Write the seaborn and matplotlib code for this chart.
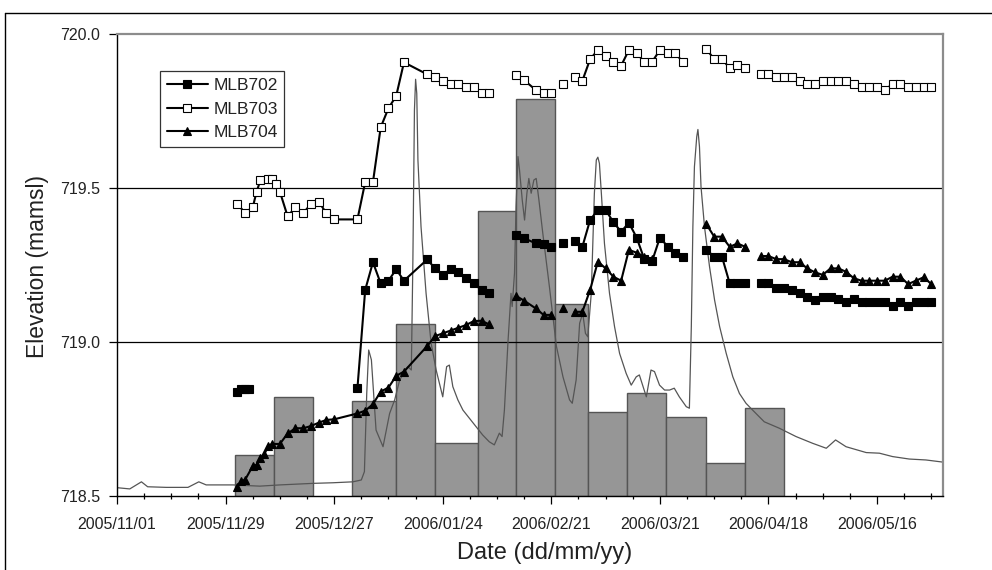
import numpy as np
import pandas as pd
import matplotlib
matplotlib.use("Agg")
import matplotlib.pyplot as plt
import matplotlib.dates as mdates
from matplotlib.lines import Line2D
from matplotlib.ticker import FixedLocator, FormatStrFormatter
import seaborn as sns

ORIGIN = pd.Timestamp("2005-11-01")
AXIS_DAYS = 213

# Piezometer levels (m amsl); day = days since 2005-11-01, None breaks the line
mlb702_day = [31, 32, 33, 34, 50,
              62, 64, 66, 68, 70, 72, 74, 80, 82, 84, 86, 88, 90, 92, 94, 96, 99,
              103, 105, 108, 110, 112, 113, 115, 116,
              118, 120, 122, 124, 126, 128, 130, 132, 134, 136, 138, 140, 142, 144, 146, 149,
              152, 154, 156, 158, 160, 162, 164,
              166, 168, 170, 172, 174, 176, 178, 180, 182, 184, 186, 188, 190, 192, 194,
              196, 198, 200, 202, 204, 206, 208, 210]
mlb702_elev = [718.839, 718.847, 718.847, 718.847, None,
               718.850, 719.169, 719.259, 719.190, 719.199, 719.236, 719.199, 719.268, 719.239,
               719.218, 719.236, 719.228, 719.207, 719.190, 719.169, 719.158, None,
               719.347, 719.337, 719.320, 719.318, 719.307, None, 719.320, None,
               719.328, 719.309, 719.396, 719.429, 719.429, 719.389, 719.358, 719.387, 719.339,
               719.268, 719.263, 719.339, 719.310, 719.290, 719.277, None,
               719.299, 719.277, 719.277, 719.190, 719.190, 719.190, None,
               719.190, 719.190, 719.176, 719.176, 719.169, 719.158, 719.147, 719.136, 719.147,
               719.147, 719.139, 719.129, 719.139, 719.129, 719.129,
               719.129, 719.129, 719.118, 719.129, 719.118, 719.129, 719.129, 719.129]

mlb703_day = [31, 33, 35, 36, 37, 39, 40, 41, 42, 44, 46, 48, 50, 52, 54, 56,
              62, 64, 66, 68, 70, 72, 74, 80, 82, 84, 86, 88, 90, 92, 94, 96, 99,
              103, 105, 108, 110, 112, 113, 115, 116,
              118, 120, 122, 124, 126, 128, 130, 132, 134, 136, 138, 140, 142, 144, 146, 149,
              152, 154, 156, 158, 160, 162, 164,
              166, 168, 170, 172, 174, 176, 178, 180, 182, 184, 186, 188, 190, 192, 194,
              196, 198, 200, 202, 204, 206, 208, 210]
mlb703_elev = [719.448, 719.420, 719.437, 719.488, 719.526, 719.528, 719.528, 719.512, 719.488,
               719.408, 719.437, 719.418, 719.448, 719.456, 719.418, 719.398,
               719.398, 719.519, 719.519, 719.697, 719.759, 719.799, 719.908, 719.869, 719.859,
               719.848, 719.838, 719.838, 719.829, 719.829, 719.809, 719.809, None,
               719.867, 719.850, 719.818, 719.807, 719.807, None, 719.838, None,
               719.859, 719.848, 719.918, 719.948, 719.929, 719.910, 719.897, 719.948, 719.937,
               719.910, 719.910, 719.948, 719.937, 719.937, 719.908, None,
               719.950, 719.919, 719.919, 719.889, 719.899, 719.889, None,
               719.869, 719.869, 719.859, 719.859, 719.859, 719.848, 719.838, 719.838, 719.848,
               719.848, 719.848, 719.848, 719.838, 719.829, 719.829,
               719.829, 719.818, 719.838, 719.838, 719.829, 719.829, 719.829, 719.829]

mlb704_day = [31, 32, 33, 35, 36, 37, 38, 39, 40, 42, 44, 46, 48, 50, 52, 54, 56,
              62, 64, 66, 68, 70, 72, 74, 80, 82, 84, 86, 88, 90, 92, 94, 96, 99,
              103, 105, 108, 110, 112, 113, 115, 116,
              118, 120, 122, 124, 126, 128, 130, 132, 134, 136, 138, 149,
              152, 154, 156, 158, 160, 162, 164,
              166, 168, 170, 172, 174, 176, 178, 180, 182, 184, 186, 188, 190, 192, 194,
              196, 198, 200, 202, 204, 206, 208, 210]
mlb704_elev = [718.530, 718.549, 718.552, 718.597, 718.601, 718.622, 718.636, 718.662, 718.669,
               718.669, 718.703, 718.720, 718.720, 718.727, 718.738, 718.747, 718.749,
               718.768, 718.777, 718.798, 718.839, 718.852, 718.890, 718.904, 718.987, 719.019,
               719.028, 719.037, 719.046, 719.055, 719.068, 719.069, 719.057, None,
               719.149, 719.134, 719.109, 719.088, 719.088, None, 719.109, None,
               719.098, 719.098, 719.169, 719.261, 719.239, 719.212, 719.199, 719.299, 719.290,
               719.277, 719.270, None,
               719.382, 719.342, 719.342, 719.309, 719.320, 719.309, None,
               719.279, 719.279, 719.269, 719.269, 719.259, 719.259, 719.239, 719.226, 719.218,
               719.239, 719.239, 719.228, 719.207, 719.199, 719.199,
               719.199, 719.199, 719.212, 719.212, 719.188, 719.199, 719.210, 719.188]

# Ten-day totals drawn as stepped blocks (edges in days, top level on the elevation scale)
block_edge = [30.5, 40.5, 50.5, 60.5, 72, 82, 93, 103, 113, 121.5, 131.5, 141.5, 152, 162, 172]
block_top = [718.633, 718.821, None, 718.808, 719.058, 718.673, 719.425, 719.789,
             719.123, 718.773, 718.834, 718.757, 718.607, 718.786]

# Continuous stage record
stage_day = [0, 3.3, 6.3, 7.9, 12.7, 18.3, 21.1, 23, 29.9, 36.8, 42, 47, 50.5, 55.7, 60.8,
             63, 63.8, 64.4, 64.9, 65.6, 66.8, 68.6, 70.3, 71.6, 72.9, 75, 75.9, 76.3, 76.7,
             77, 77.3, 77.6, 78.4, 79.7, 81, 82.3, 84, 85, 85.7, 86.6, 87.9, 89.2, 90.9, 92.6,
             94.3, 96, 97.3, 98.6, 99.3, 99.9, 100.8, 101.6, 101.9, 102.5, 102.9, 103.4, 103.8,
             104.5, 105.1, 105.7, 106.2, 106.8, 107.5, 108.1, 108.8, 109.8, 111.5, 113.3, 115,
             116.7, 117.4, 118.4, 119.3, 120.1, 120.8, 121.4, 122.3, 123.1, 123.6, 124, 124.4,
             124.9, 125.7, 127, 128.3, 129.6, 131.3, 132.6, 133.9, 134.7, 136.5, 137.7, 138.6,
             139.9, 141.2, 142.5, 143.7, 145, 146.8, 147.6, 148.1, 148.5, 148.9, 149.5, 149.8,
             150.2, 150.6, 151.5, 152.8, 154.1, 155.4, 157.1, 158.8, 160.5, 162.2, 163.9, 166.9,
             170.8, 175.1, 179.4, 182.9, 185.3, 188, 193.2, 196.6, 200, 204.3, 208.6, 213]
stage_elev = [718.527, 718.523, 718.546, 718.530, 718.528, 718.528, 718.546, 718.536, 718.536,
              718.532, 718.536, 718.539, 718.541, 718.543, 718.546,
              718.552, 718.579, 718.833, 718.974, 718.942, 718.714, 718.660, 718.768, 718.812,
              718.877, 718.920, 718.909, 719.266, 719.753,
              719.853, 719.807, 719.591, 719.374, 719.158, 718.996, 718.909, 718.822, 718.920,
              718.925, 718.855, 718.812, 718.779, 718.752, 718.725,
              718.698, 718.676, 718.666, 718.704, 718.693, 718.779, 718.996, 719.158, 719.115,
              719.223, 719.439, 719.602, 719.558,
              719.461, 719.396, 719.483, 719.531, 719.483, 719.526, 719.531, 719.461, 719.353,
              719.180, 718.987, 718.887,
              718.812, 718.801, 718.877, 719.061, 719.093, 719.028, 719.017, 719.158, 719.483,
              719.591, 719.600, 719.580,
              719.483, 719.320, 719.158, 719.050, 718.963, 718.898, 718.860, 718.887, 718.893,
              718.822, 718.909, 718.904,
              718.860, 718.844, 718.844, 718.850, 718.822, 718.790, 718.785, 719.050, 719.374,
              719.569, 719.667, 719.690,
              719.634, 719.504, 719.374, 719.244, 719.136, 719.050, 718.963, 718.887, 718.833,
              718.801, 718.779, 718.741,
              718.720, 718.693, 718.671, 718.655, 718.682, 718.660, 718.641, 718.639, 718.628,
              718.620, 718.617, 718.610]

y_ticks = [718.5, 719.0, 719.5, 720.0]
x_tick_step = 28
x_minor_step = 7


def to_dates(days):
    return ORIGIN + pd.to_timedelta(np.asarray(days, dtype=float), unit="D")


def series_frame(days, elev):
    df = pd.DataFrame({"day": days, "elev": pd.array(elev, dtype="Float64")})
    df["elev"] = df["elev"].astype(float)
    df["seg"] = df["elev"].isna().cumsum()
    df = df.dropna(subset=["elev"]).copy()
    df["date"] = to_dates(df["day"])
    return df


sns.set_theme(style="white")
plt.rcParams["font.family"] = ["Liberation Sans", "DejaVu Sans"]
TXT = "#222222"

fig = plt.figure(figsize=(9.92, 5.70), dpi=100)
W, H = 992, 570
ax = fig.add_axes([117 / W, 1 - 496 / H, (943 - 117) / W, (496 - 34) / H])

# stepped blocks
for left, right, top in zip(block_edge[:-1], block_edge[1:], block_top):
    if top is None:
        continue
    x0 = mdates.date2num(to_dates([left])[0])
    x1 = mdates.date2num(to_dates([right])[0])
    ax.bar(x0, top - y_ticks[0], width=x1 - x0, bottom=y_ticks[0], align="edge",
           color="#969696", edgecolor="#555555", linewidth=1.0, zorder=1)

# horizontal gridlines
for yv in y_ticks[1:-1]:
    ax.axhline(yv, color="black", lw=0.9, zorder=1.5)

# stage record
stage = pd.DataFrame({"date": to_dates(stage_day), "elev": stage_elev})
sns.lineplot(data=stage, x="date", y="elev", color="#555555", lw=0.9,
             estimator=None, sort=False, ax=ax, zorder=2)

styles = [
    ("MLB702", mlb702_day, mlb702_elev, dict(marker="s", markerfacecolor="black")),
    ("MLB703", mlb703_day, mlb703_elev, dict(marker="s", markerfacecolor="white")),
    ("MLB704", mlb704_day, mlb704_elev, dict(marker="^", markerfacecolor="black")),
]
handles = []
for i, (name, d, e, mk) in enumerate(styles):
    df = series_frame(d, e)
    sns.lineplot(data=df, x="date", y="elev", units="seg", estimator=None, sort=False,
                 color="black", lw=1.5, markersize=5.2, markeredgecolor="black",
                 markeredgewidth=0.8, ax=ax, zorder=4 + i, **mk)
    handles.append(Line2D([], [], color="black", lw=1.5, markersize=5.2,
                          markeredgecolor="black", markeredgewidth=0.8, label=name, **mk))

# axes limits and ticks
ax.set_xlim(to_dates([0])[0], to_dates([AXIS_DAYS])[0])
ax.set_ylim(y_ticks[0], y_ticks[-1])
major = [mdates.date2num(d) for d in to_dates(np.arange(0, AXIS_DAYS, x_tick_step))]
minor = [mdates.date2num(d) for d in to_dates(np.arange(0, AXIS_DAYS, x_minor_step))]
ax.xaxis.set_major_locator(FixedLocator(major))
ax.xaxis.set_minor_locator(FixedLocator(minor))
ax.xaxis.set_major_formatter(mdates.DateFormatter("%Y/%m/%d"))
ax.yaxis.set_major_locator(FixedLocator(y_ticks))
ax.yaxis.set_major_formatter(FormatStrFormatter("%.1f"))
ax.tick_params(axis="both", which="major", direction="out", length=6, width=0.9,
               color="black", labelsize=11.5, labelcolor=TXT, pad=6,
               bottom=True, left=True)
ax.tick_params(axis="x", which="major", pad=9)
ax.tick_params(axis="x", which="minor", direction="inout", length=5, width=0.9,
               color="black", bottom=True)

for side in ("left", "bottom"):
    ax.spines[side].set_color("black")
    ax.spines[side].set_linewidth(1.0)
for side in ("top", "right"):
    ax.spines[side].set_color("#8c8c8c")
    ax.spines[side].set_linewidth(1.6)

ax.set_xlabel("Date (dd/mm/yy)", fontsize=17, color=TXT)
ax.xaxis.set_label_coords((545 - 117) / 826, -(553 - 496) / 462, transform=ax.transAxes)
ax.xaxis.label.set_va("center")
ax.set_ylabel("Elevation (mamsl)", fontsize=16.5, color=TXT)
ax.yaxis.set_label_coords(-(117 - 38) / 826, (496 - 266) / 462, transform=ax.transAxes)
ax.yaxis.label.set_va("center")

leg = ax.legend(handles=handles, loc="upper left",
                bbox_to_anchor=(160 / W, 1 - 71 / H), bbox_transform=fig.transFigure,
                borderaxespad=0, fancybox=False, frameon=True, fontsize=12.5,
                handlelength=2.4, handletextpad=0.3, labelspacing=0.5, borderpad=0.38)
leg.get_frame().set_edgecolor("black")
leg.get_frame().set_linewidth(0.9)
for t in leg.get_texts():
    t.set_color(TXT)

# outer chart frame
fig.add_artist(Line2D([5 / W, 1.0], [1 - 13 / H, 1 - 13 / H], transform=fig.transFigure,
                      color="black", lw=1.0))
fig.add_artist(Line2D([5 / W, 5 / W], [0.0, 1 - 13 / H], transform=fig.transFigure,
                      color="black", lw=1.0))

fig.savefig("out.png", dpi=100, facecolor="white")
